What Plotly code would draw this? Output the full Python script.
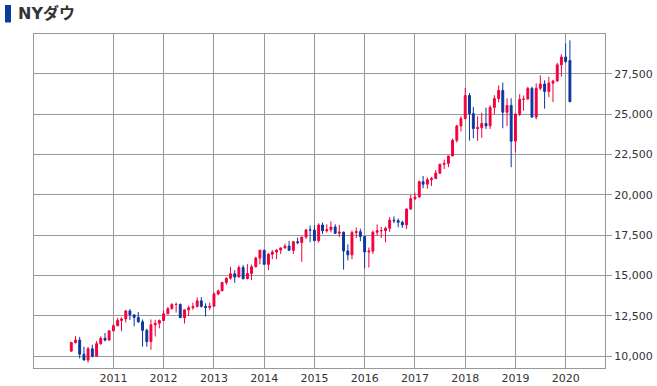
import plotly.graph_objects as go
import pandas as pd

dates = pd.date_range("2010-03-01", "2020-02-01", freq="MS").strftime("%Y-%m-%d").tolist()

opens = [
    10325, 10857, 11009, 10137, 9774, 10466, 10015, 10788, 11118, 11006,
    11578, 11892, 12226, 12320, 12811, 12570, 12414, 12143, 11614, 10913, 11955, 12046,
    12218, 12633, 12952, 13212, 13214, 12393, 12880, 13009, 13091, 13437, 13096, 13026,
    13104, 13861, 14054, 14579, 14840, 15116, 14910, 15500, 14810, 15130, 15546, 16086,
    16577, 15699, 16322, 16458, 16581, 16717, 16827, 16563, 17098, 17043, 17391, 17828,
    17823, 17165, 18133, 17776, 17841, 18011, 17620, 17690, 16528, 16285, 17664, 17720,
    17425, 16466, 16517, 17685, 17774, 17787, 17930, 18432, 18401, 18308, 18142, 19124,
    19763, 19864, 20812, 20663, 20941, 21009, 21350, 21891, 21948, 22405, 23377, 24272,
    24719, 26149, 25029, 24103, 24163, 24416, 24271, 25415, 25965, 26458, 25116, 25538,
    23327, 24999, 25916, 25929, 26593, 24815, 26600, 26864, 26403, 26917, 27046, 28051,
    28538, 28319,
]
highs = [
    10907, 11258, 11205, 10595, 10584, 10720, 10948, 11246, 11452, 11625,
    11989, 12392, 12419, 12876, 12929, 12569, 12753, 12284, 11717, 12285, 12264, 12288,
    12841, 13056, 13290, 13338, 13280, 12899, 13141, 13330, 13653, 13662, 13289, 13331,
    13970, 14149, 14585, 14888, 15542, 15340, 15634, 15658, 15710, 15680, 16174, 16588,
    16588, 16398, 16588, 16631, 16736, 16978, 17152, 17153, 17350, 17395, 17894, 18103,
    18121, 18244, 18288, 18175, 18351, 18180, 18137, 17723, 16933, 17799, 17978, 17901,
    17405, 16743, 17790, 18168, 18017, 18017, 18622, 18668, 18534, 18399, 19152, 19987,
    20125, 20892, 21169, 21071, 21112, 21535, 21929, 22179, 22420, 23485, 24328, 24876,
    26617, 26307, 25450, 24858, 25087, 25402, 25552, 26167, 26769, 26951, 25980, 25980,
    25056, 26241, 26155, 26696, 26695, 26907, 27398, 27095, 27306, 27122, 28175, 28701,
    29374, 29568,
]
lows = [
    10267, 10791, 9870, 9757, 9614, 9936, 10008, 10712, 10929, 10994,
    11577, 11884, 11555, 12093, 12254, 11862, 12072, 10604, 10597, 10404, 11231, 11735,
    12218, 12603, 12905, 12710, 12391, 12036, 12493, 12882, 13029, 13021, 12471, 12883,
    13104, 13784, 14054, 14434, 14746, 14551, 14900, 14760, 14777, 14719, 15522, 15703,
    15683, 15340, 16016, 16015, 16334, 16675, 16562, 16334, 16945, 15855, 17265, 17067,
    17136, 17038, 17579, 17665, 17682, 17574, 17399, 15370, 15942, 16013, 17320, 17129,
    15450, 15503, 16345, 17485, 17331, 17063, 17713, 18247, 17992, 17959, 17884, 19069,
    19677, 19831, 20412, 20379, 20553, 21000, 21279, 21600, 21709, 22416, 23242, 23921,
    24741, 23360, 23509, 23344, 23532, 24083, 24077, 24965, 25731, 24122, 24268, 21713,
    22638, 24884, 25208, 25924, 24776, 24680, 26468, 25339, 26051, 25743, 27028, 27325,
    28170, 25760,
]
closes = [
    10857, 11009, 10137, 9774, 10466, 10015, 10788, 11118, 11006, 11578,
    11892, 12226, 12320, 12811, 12570, 12414, 12143, 11614, 10913, 11955, 12046, 12218,
    12633, 12952, 13212, 13214, 12393, 12880, 13009, 13091, 13437, 13096, 13026, 13104,
    13861, 14054, 14579, 14840, 15116, 14910, 15500, 14810, 15130, 15546, 16086, 16577,
    15699, 16322, 16458, 16581, 16717, 16827, 16563, 17098, 17043, 17391, 17828, 17823,
    17165, 18133, 17776, 17841, 18011, 17620, 17690, 16528, 16285, 17664, 17720, 17425,
    16466, 16517, 17685, 17774, 17787, 17930, 18432, 18401, 18308, 18142, 19124, 19763,
    19864, 20812, 20663, 20941, 21009, 21350, 21891, 21948, 22405, 23377, 24272, 24719,
    26149, 25029, 24103, 24163, 24416, 24271, 25415, 25965, 26458, 25116, 25538, 23327,
    24999, 25916, 25929, 26593, 24815, 26600, 26864, 26403, 26917, 27046, 28051, 28538,
    28256, 25766,
]

year_ticks = ["2011-01-01", "2012-01-01", "2013-01-01", "2014-01-01", "2015-01-01",
              "2016-01-01", "2017-01-01", "2018-01-01", "2019-01-01", "2020-01-01"]
year_labels = ["2011", "2012", "2013", "2014", "2015", "2016", "2017", "2018", "2019", "2020"]
y_ticks = [10000, 12500, 15000, 17500, 20000, 22500, 25000, 27500]
title_text = "NYダウ"

UP = "#F2003C"
DOWN = "#0A36A0"

fig = go.Figure(go.Candlestick(
    x=dates, open=opens, high=highs, low=lows, close=closes,
    increasing=dict(line=dict(color=UP, width=1), fillcolor=UP),
    decreasing=dict(line=dict(color=DOWN, width=1), fillcolor=DOWN),
    whiskerwidth=0,
    showlegend=False,
    hoverinfo="x+y",
))

W, H = 657, 386
L, R, T, B = 34, 52, 34, 18
pw, ph = W - L - R, H - T - B

def px(xp):
    return (xp - L) / pw

def py(yp):
    return 1 - (yp - T) / ph

fig.update_layout(
    width=W, height=H,
    margin=dict(l=L, r=R, t=T, b=B),
    paper_bgcolor="white", plot_bgcolor="white",
    font=dict(family="DejaVu Sans", size=11, color="#333333"),
    xaxis=dict(
        type="date",
        automargin=False,
        range=["2009-06-03", "2020-10-13"],
        rangeslider=dict(visible=False),
        tickvals=year_ticks, ticktext=year_labels,
        showgrid=True, gridcolor="#999999", gridwidth=1,
        showline=True, linecolor="#999999", linewidth=1, mirror=True,
        ticks="", ticklen=0,
        tickfont=dict(size=11, color="#333333"),
        fixedrange=True,
    ),
    yaxis=dict(
        side="right",
        automargin=False,
        range=[9280, 29960],
        tickvals=y_ticks, tickformat=",",
        showgrid=True, gridcolor="#999999", gridwidth=1,
        showline=True, linecolor="#999999", linewidth=1, mirror=True,
        ticks="outside", ticklen=6, tickcolor="#999999",
        tickfont=dict(size=11, color="#333333"),
        zeroline=False,
        fixedrange=True,
    ),
    shapes=[dict(
        type="rect", xref="paper", yref="paper",
        x0=px(5), x1=px(11), y0=py(22.5), y1=py(5),
        fillcolor="#0A3C9E", line=dict(width=0),
    )],
    annotations=[dict(
        text="<b>" + title_text + "</b>", xref="paper", yref="paper",
        x=px(16), y=py(14), xanchor="left", yanchor="middle",
        showarrow=False, font=dict(size=16, color="#333333", family="DejaVu Sans, Noto Sans CJK JP"),
    )],
)

fig.write_html(
    "out.html",
    config={"displayModeBar": False},
    post_script="document.body.style.margin='0';document.body.style.padding='0';document.body.style.overflow='hidden';",
)
